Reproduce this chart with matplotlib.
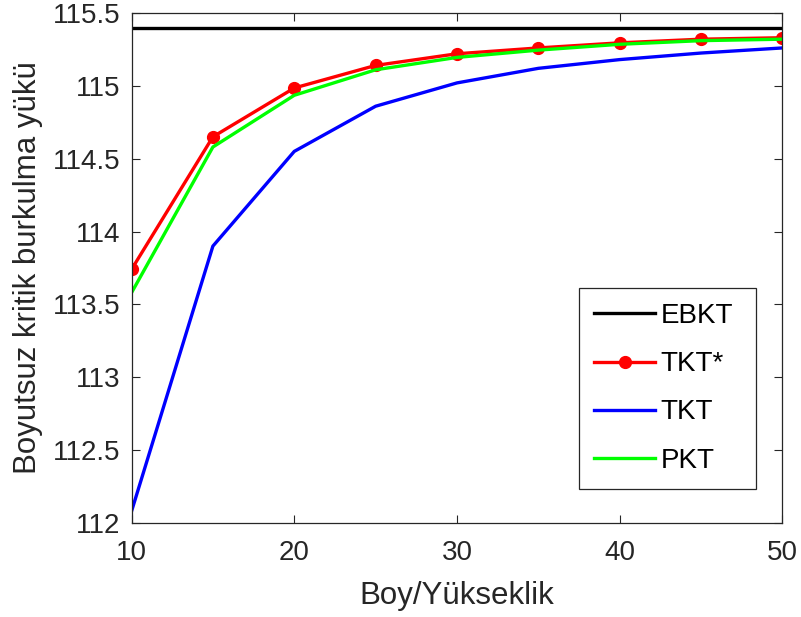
import matplotlib.pyplot as plt
import numpy as np
from matplotlib.ticker import FuncFormatter

plt.rcParams['font.family'] = ['Liberation Sans', 'DejaVu Sans']
plt.rcParams['xtick.direction'] = 'in'
plt.rcParams['ytick.direction'] = 'in'

# Boy/Yükseklik oranı
x = [10, 15, 20, 25, 30, 35, 40, 45, 50]
ebkt = [115.397] * len(x)
tkt_star = [113.74, 114.65, 114.985, 115.14, 115.22, 115.26, 115.295, 115.32, 115.33]
tkt = [112.08, 113.90, 114.55, 114.86, 115.02, 115.12, 115.18, 115.225, 115.26]
pkt = [113.58, 114.58, 114.935, 115.11, 115.195, 115.245, 115.285, 115.31, 115.32]

text_c = '#262626'

fig = plt.figure(figsize=(8.01, 6.17), dpi=100)
ax = fig.add_axes([0.1642, 0.1524, 0.8127, 0.8266])

ax.plot(x, ebkt, color='black', lw=2.4, label='EBKT')
ax.plot(x, tkt_star, color='red', lw=2.4, marker='o', markersize=8.5, label='TKT*')
ax.plot(x, tkt, color='blue', lw=2.4, label='TKT')
ax.plot(x, pkt, color='#00ff00', lw=2.4, label='PKT')

ax.set_xlim(10, 50)
ax.set_ylim(112, 115.5)
ax.set_xticks([10, 20, 30, 40, 50])
ax.set_yticks(np.arange(112, 115.51, 0.5))
ax.yaxis.set_major_formatter(FuncFormatter(lambda v, p: '%g' % v))

ax.tick_params(axis='both', which='both', top=True, right=True, labelsize=20,
               colors=text_c, length=6, width=0.8)
ax.tick_params(axis='x', pad=12)
ax.tick_params(axis='y', pad=8)
for s in ax.spines.values():
    s.set_color(text_c)
    s.set_linewidth(0.9)

ax.set_xlabel('Boy/Yükseklik', fontsize=22.5, color=text_c, labelpad=11)
ax.set_ylabel('Boyutsuz kritik burkulma yükü', fontsize=22.5, color=text_c, labelpad=7)

leg = ax.legend(loc='lower left', bbox_to_anchor=(0.687, 0.0667, 0.272, 0.394), mode='expand',
                borderaxespad=0, fontsize=20, fancybox=False, framealpha=1, edgecolor=text_c,
                handlelength=2.2, labelspacing=0.8, borderpad=0.55, handletextpad=0.2)
leg.get_frame().set_linewidth(0.9)
for t in leg.get_texts():
    t.set_color('black')

fig.savefig('out.png', dpi=100)
